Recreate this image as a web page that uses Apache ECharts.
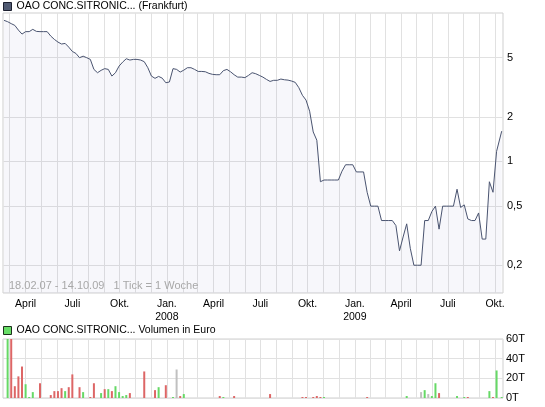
<!DOCTYPE html>
<html><head><meta charset="utf-8">
<script src="https://cdn.jsdelivr.net/npm/echarts@6/dist/echarts.min.js"></script>
<style>html,body{margin:0;padding:0;background:#fff}#c{width:545px;height:407px}</style>
</head><body><div id="c"></div>
<script>
// ---- data ----
const priceName = 'OAO CONC.SITRONIC... (Frankfurt)';
const volumeName = 'OAO CONC.SITRONIC... Volumen in Euro';
const footnote = '18.02.07 - 14.10.09   1 Tick = 1 Woche';
const firstDate = '2007-02-18';
const lastDate = '2009-10-14';
// weekly closing prices (EUR)
const prices = [
  8.92, 8.74, 8.48, 8.25, 7.67, 7.21, 7.49, 7.49, 7.76, 7.52,
  7.49, 7.49, 7.49, 6.99, 6.64, 6.37, 6.18, 6.24, 5.89, 5.51,
  5.34, 5.00, 5.12, 5.00, 4.87, 4.17, 3.96, 4.11, 4.22, 4.17,
  3.76, 3.96, 4.39, 4.67, 4.92, 4.82, 4.87, 4.87, 4.82, 4.70,
  4.28, 3.76, 3.63, 3.74, 3.64, 3.39, 3.43, 4.22, 4.17, 4.00,
  4.12, 4.28, 4.28, 4.17, 4.04, 4.04, 4.02, 3.92, 3.86, 3.84,
  3.84, 4.09, 4.17, 4.02, 3.84, 3.70, 3.70, 3.67, 3.80, 3.96,
  3.90, 3.80, 3.70, 3.57, 3.46, 3.52, 3.52, 3.59, 3.55, 3.53,
  3.48, 3.41, 3.14, 2.79, 2.59, 2.18, 1.58, 1.39, 0.73, 0.75,
  0.75, 0.75, 0.75, 0.75, 0.86, 0.95, 0.95, 0.95, 0.85, 0.85,
  0.85, 0.62, 0.50, 0.50, 0.50, 0.40, 0.40, 0.40, 0.40, 0.37,
  0.25, 0.31, 0.38, 0.26, 0.20, 0.20, 0.20, 0.40, 0.40, 0.46,
  0.50, 0.35, 0.50, 0.50, 0.50, 0.50, 0.65, 0.49, 0.51, 0.41,
  0.40, 0.40, 0.45, 0.30, 0.30, 0.73, 0.62, 1.17, 1.60
];
// weekly volume in thousand euro (T)
const volume = [
  null,70,70,12,22,32,14,1,6,null,
  15,null,null,3,7,7,10,7,11,24,
  null,11,6,null,1,15,null,5,9,9,
  7,12,6,2,3,5,null,null,null,27,
  null,null,8,11,null,13,null,1,29,2,
  4,null,null,null,null,null,null,null,null,null,
  2,1,null,null,2,null,null,null,null,null,
  null,null,null,null,4,null,null,null,null,null,
  null,null,null,1,1,null,1,2,1,1,
  null,null,null,null,null,null,null,null,null,null,
  null,1,null,null,null,null,null,null,null,null,
  null,null,2,null,null,null,6,8,4,2,
  15,5,null,null,null,null,2,null,1,1,
  null,null,null,null,null,7,1,28,1
];
// G = up (green), R = down (red), F = unchanged (grey)
const volumeTrend =
  '.GRRRRGGG.' + 'R..RRRRGRR' + '.RG.RR.GRG' + 'RGGGGR...R' + '..RG.R.GFR' +
  'G.........' + 'RG..R.....' + '....R.....' + '...RR.RRRG' + '..........' +
  '.R........' + '..G...FGFG' + 'GR....G.GR' + '.....GRGG';
const priceTicks = [5, 2, 1, 0.5, 0.2];
const monthNames = ['Jan.', 'Feb.', 'März', 'April', 'Mai', 'Juni', 'Juli', 'Aug.', 'Sep.', 'Okt.', 'Nov.', 'Dez.'];

// ---- build ----
const DAY = 86400000;
const toTs = s => { const p = s.split('-').map(Number); return Date.UTC(p[0], p[1] - 1, p[2]); };
const t0 = toTs(firstDate), tEnd = toTs(lastDate);
const dates = prices.map((_, i) => i === prices.length - 1 ? tEnd : t0 + i * 7 * DAY);
const xMin = t0 - 2 * DAY;
const xMax = Date.UTC(2009, 9, 16, 12);
const monthStarts = [];
for (let y = 2007; y <= 2009; y++) for (let m = 0; m < 12; m++) {
  const t = Date.UTC(y, m, 1);
  if (t > xMin && t < xMax) monthStarts.push(t);
}
const FONT = '"Liberation Sans", Arial, sans-serif';
const GRID = '#e1e1e1';
const colorOf = { G: '#66d966', R: '#dd6666', F: '#c0c0c0' };
const monthLabel = t => { const d = new Date(t); const m = d.getUTCMonth(); return monthNames[m] + (m === 0 ? '\n' + d.getUTCFullYear() : ''); };

const vLinesLabelled = monthStarts.map(t => {
  const quarter = new Date(t).getUTCMonth() % 3 === 0;
  return {
    xAxis: t,
    label: quarter
      ? { show: true, position: 'start', formatter: monthLabel(t), color: '#000', fontSize: 10.5, fontFamily: FONT, distance: 5, lineHeight: 13, align: 'center', verticalAlign: 'top' }
      : { show: false }
  };
});
const vLines = monthStarts.map(t => ({ xAxis: t, label: { show: false } }));
const hLines = priceTicks.map(v => ({
  yAxis: v,
  label: { show: true, position: 'end', formatter: String(v).replace('.', ','), color: '#000', fontSize: 11, fontFamily: FONT, distance: 4 }
}));
const markBase = {
  silent: true, symbol: ['none', 'none'], z: 1, animation: false,
  lineStyle: { type: 'solid', color: GRID, width: 1 },
  emphasis: { disabled: true }
};

const chart = echarts.init(document.getElementById('c'), null, { renderer: 'canvas' });
chart.setOption({
  animation: false,
  backgroundColor: '#fff',
  textStyle: { fontFamily: FONT },
  title: {
    text: footnote, left: 9, top: 280, padding: 0,
    textStyle: { fontSize: 11, fontWeight: 'normal', color: '#a8a8a8', fontFamily: FONT }
  },
  legend: [
    {
      left: 3, top: 1, padding: 0, itemWidth: 8, itemHeight: 8, selectedMode: false,
      textStyle: { fontSize: 10.5, color: '#000', fontFamily: FONT },
      data: [{ name: priceName, icon: 'rect', itemStyle: { color: '#505a72', borderColor: '#1c2030', borderWidth: 1 } }]
    },
    {
      left: 3, top: 325, padding: 0, itemWidth: 8, itemHeight: 8, selectedMode: false,
      textStyle: { fontSize: 10.5, color: '#000', fontFamily: FONT },
      data: [{ name: volumeName, icon: 'rect', itemStyle: { color: '#66dd66', borderColor: '#1c301c', borderWidth: 1 } }]
    }
  ],
  grid: [
    { left: 3, top: 13, width: 500, height: 280, show: true, borderColor: '#cfcfcf', borderWidth: 1, backgroundColor: '#fff' },
    { left: 3, top: 339, width: 500, height: 59, show: true, borderColor: '#cfcfcf', borderWidth: 1, backgroundColor: '#fff' }
  ],
  xAxis: [
    {
      type: 'value', gridIndex: 0, min: xMin, max: xMax, scale: true,
      axisLine: { show: false }, axisTick: { show: false }, splitLine: { show: false }, axisLabel: { show: false }
    },
    {
      type: 'value', gridIndex: 1, min: xMin, max: xMax, scale: true,
      axisLine: { show: false }, axisTick: { show: false }, splitLine: { show: false }, axisLabel: { show: false }
    }
  ],
  yAxis: [
    {
      type: 'log', gridIndex: 0, min: 0.13, max: 10,
      axisLine: { show: false }, axisTick: { show: false }, axisLabel: { show: false }, splitLine: { show: false }
    },
    {
      type: 'value', gridIndex: 1, position: 'right', min: 0, max: 60, interval: 20,
      axisLine: { show: false }, axisTick: { show: false },
      axisLabel: { formatter: '{value}T', color: '#000', fontSize: 11, fontFamily: FONT, margin: 3 },
      splitLine: { lineStyle: { color: GRID, width: 1 } }
    }
  ],
  series: [
    {
      type: 'line', name: priceName, xAxisIndex: 0, yAxisIndex: 0,
      data: dates.map((d, i) => [d, prices[i]]),
      symbol: 'none', showSymbol: false, z: 2,
      lineStyle: { color: '#4a5470', width: 1 },
      itemStyle: { color: '#4a5470' },
      areaStyle: { color: 'rgba(60,80,170,0.06)', origin: 'start' },
      markLine: Object.assign({}, markBase, { data: hLines.concat(vLinesLabelled) })
    },
    {
      type: 'bar', name: volumeName, xAxisIndex: 1, yAxisIndex: 1, barWidth: 2, z: 2,
      itemStyle: { color: '#66dd66' },
      data: dates.map((d, i) => volume[i] == null ? null : { value: [d, volume[i]], itemStyle: { color: colorOf[volumeTrend[i]] } }),
      markLine: Object.assign({}, markBase, { data: vLines })
    }
  ]
});
</script>
</body></html>
